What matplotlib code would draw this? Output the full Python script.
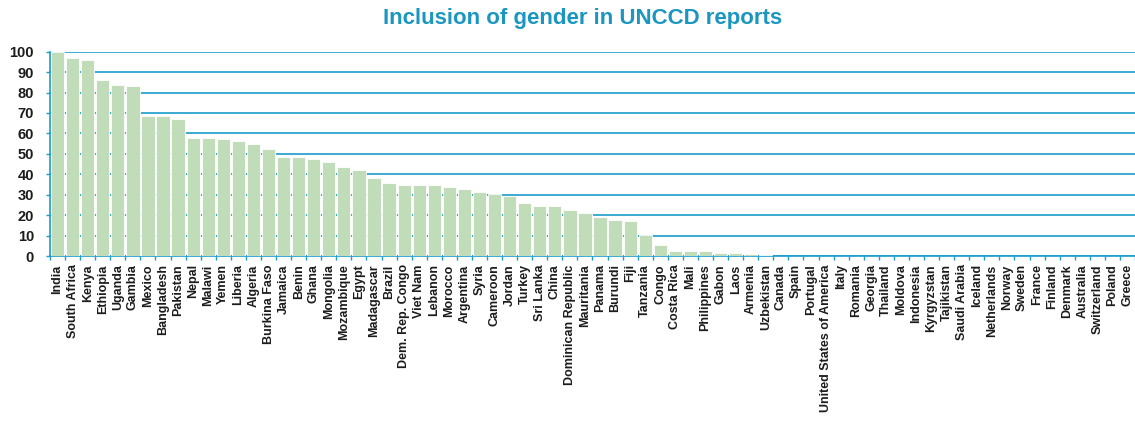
import matplotlib
matplotlib.use("Agg")
import matplotlib.pyplot as plt
import numpy as np

countries = ["India", "South Africa", "Kenya", "Ethiopia", "Uganda", "Gambia", "Mexico",
             "Bangladesh", "Pakistan", "Nepal", "Malawi", "Yemen", "Liberia", "Algeria",
             "Burkina Faso", "Jamaica", "Benin", "Ghana", "Mongolia", "Mozambique", "Egypt",
             "Madagascar", "Brazil", "Dem. Rep. Congo", "Viet Nam", "Lebanon", "Morocco",
             "Argentina", "Syria", "Cameroon", "Jordan", "Turkey", "Sri Lanka", "China",
             "Dominican Republic", "Mauritania", "Panama", "Burundi", "Fiji", "Tanzania",
             "Congo", "Costa Rica", "Mali", "Philippines", "Gabon", "Laos", "Armenia",
             "Uzbekistan", "Canada", "Spain", "Portugal", "United States of America", "Italy",
             "Romania", "Georgia", "Thailand", "Moldova", "Indonesia", "Kyrgyzstan",
             "Tajikistan", "Saudi Arabia", "Iceland", "Netherlands", "Norway", "Sweden",
             "France", "Finland", "Denmark", "Australia", "Switzerland", "Poland", "Greece"]

values = [100, 96.7, 96.1, 86.3, 83.8, 83.2, 68.7,
          68.7, 66.9, 57.7, 57.7, 57.1, 56.3, 55.0,
          52.5, 48.6, 48.6, 47.3, 46.0, 43.4, 42.1,
          38.2, 35.6, 34.7, 34.7, 34.7, 33.6,
          32.8, 31.5, 30.3, 29.5, 25.8, 24.5, 24.5,
          22.5, 21.0, 19.1, 17.8, 17.1, 10.1,
          5.4, 2.3, 2.3, 2.3, 1.5, 1.5, 0.8,
          0.5, 0, 0, 0, 0, 0,
          0, 0, 0, 0, 0, 0,
          0, 0, 0, 0, 0, 0,
          0, 0, 0, 0, 0, 0, 0]

yticks = list(range(0, 101, 10))
title = "Inclusion of gender in UNCCD reports"

grid_c = "#1a9ccc"
bar_c = "#c1dcb8"
title_c = "#1a96c0"
text_c = "#1c1c1c"

plt.rcParams['font.family'] = ['Liberation Sans', 'DejaVu Sans']

W, H = 1135, 423
fig = plt.figure(figsize=(W / 100, H / 100), dpi=100)
ax = fig.add_axes([50 / W, 1 - 256 / H, (1135 - 50) / W, (256 - 51.7) / H])

x = np.arange(len(countries))
ax.bar(x, values, width=0.88, color=bar_c, edgecolor="white", linewidth=0.6, zorder=3)

ax.set_xlim(-0.5, len(countries) - 0.5)
ax.set_ylim(0, 100)
ax.set_yticks(yticks)
ax.set_yticklabels([str(t) for t in yticks], fontsize=10.5, fontweight="bold", color=text_c)
ax.yaxis.grid(True, color=grid_c, linewidth=1.2, zorder=0)
ax.set_axisbelow(True)

ax.set_xticks(x)
ax.set_xticklabels(countries, rotation=90, fontsize=9, fontweight="bold", color=text_c)
ax.set_xticks(np.arange(-0.5, len(countries), 1), minor=True)
ax.tick_params(axis="x", which="major", length=0, pad=6)
ax.tick_params(axis="x", which="minor", length=3, color=grid_c, width=1)
ax.tick_params(axis="y", length=3, color=grid_c, width=1, pad=8.5)

for s in ["top", "right"]:
    ax.spines[s].set_visible(False)
for s in ["left", "bottom"]:
    ax.spines[s].set_color(grid_c)
    ax.spines[s].set_linewidth(1.2)

fig.text(583 / W, 1 - 18.5 / H, title, ha="center", va="center", fontsize=16,
         fontweight="bold", color=title_c)

fig.savefig("out.png", dpi=100)
